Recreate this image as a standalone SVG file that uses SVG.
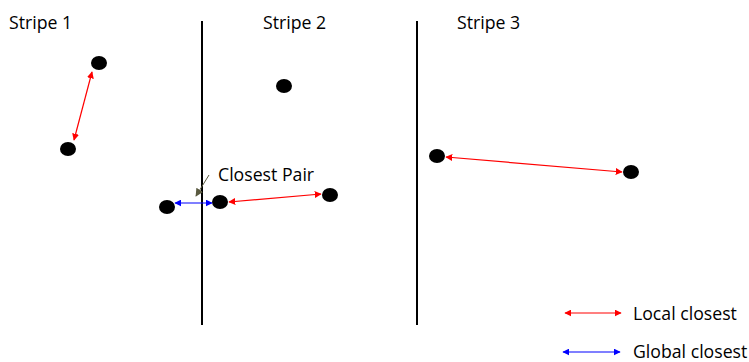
<svg xmlns="http://www.w3.org/2000/svg" width="749" height="362" viewBox="0 0 749 362">
<defs>
<style>
.t{font-family:"Open Sans","Noto Sans",sans-serif;font-size:17.7px;fill:#000}
.div{stroke:#000;stroke-width:2}
.dot{fill:#000}
.red{stroke:#ff0000;stroke-width:1.2;fill:none}
.blue{stroke:#0000ff;stroke-width:1.2;fill:none}
</style>
<marker id="mr" viewBox="0 0 10 10" refX="9" refY="5" markerWidth="7" markerHeight="7" markerUnits="userSpaceOnUse" orient="auto-start-reverse"><path d="M0,0L10,5L0,10z" fill="#ff0000"/></marker>
<marker id="mb" viewBox="0 0 10 10" refX="9" refY="5" markerWidth="7" markerHeight="7" markerUnits="userSpaceOnUse" orient="auto-start-reverse"><path d="M0,0L10,5L0,10z" fill="#0000ff"/></marker>
<marker id="mg" viewBox="0 0 10 10" refX="9" refY="5" markerWidth="8" markerHeight="8" markerUnits="userSpaceOnUse" orient="auto"><path d="M0,0L10,5L0,10z" fill="#5a5a40"/></marker>
</defs>
<g id="dividers">
<line class="div" x1="202" y1="21" x2="202" y2="325"/>
<line class="div" x1="417" y1="21" x2="417" y2="325"/>
</g>
<g id="labels">
<text class="t" x="9" y="29">Stripe 1</text>
<text class="t" x="263" y="29">Stripe 2</text>
<text class="t" x="457" y="29">Stripe 3</text>
<text class="t" x="218" y="181">Closest Pair</text>
</g>
<g id="p1"><ellipse class="dot" cx="99" cy="63" rx="8" ry="7"/></g>
<g id="p2"><ellipse class="dot" cx="68" cy="149" rx="8" ry="7"/></g>
<g id="p3"><ellipse class="dot" cx="284" cy="86" rx="8" ry="7"/></g>
<g id="p4"><ellipse class="dot" cx="167" cy="207" rx="8" ry="7"/></g>
<g id="p5"><ellipse class="dot" cx="220" cy="202" rx="8" ry="7"/></g>
<g id="p6"><ellipse class="dot" cx="330" cy="195" rx="8" ry="7"/></g>
<g id="p7"><ellipse class="dot" cx="437" cy="156" rx="8" ry="7"/></g>
<g id="p8"><ellipse class="dot" cx="631" cy="172" rx="8" ry="7"/></g>
<g id="connectors">
<line class="red" x1="92" y1="72" x2="74" y2="140" marker-start="url(#mr)" marker-end="url(#mr)"/>
<line class="red" x1="229" y1="202" x2="321" y2="194" marker-start="url(#mr)" marker-end="url(#mr)"/>
<line class="red" x1="446" y1="157" x2="622" y2="172" marker-start="url(#mr)" marker-end="url(#mr)"/>
<line class="blue" x1="175" y1="203" x2="212" y2="203" marker-start="url(#mb)" marker-end="url(#mb)"/>
<line x1="209" y1="175" x2="196" y2="196" stroke="#5a5a40" stroke-width="1" marker-end="url(#mg)"/>
</g>
<g id="legend">
<line class="red" x1="565" y1="313" x2="621" y2="313" marker-start="url(#mr)" marker-end="url(#mr)"/>
<text class="t" x="633" y="320">Local closest</text>
<line class="blue" x1="563" y1="352" x2="620" y2="352" marker-start="url(#mb)" marker-end="url(#mb)"/>
<text class="t" x="633" y="358">Global closest</text>
</g>
</svg>
